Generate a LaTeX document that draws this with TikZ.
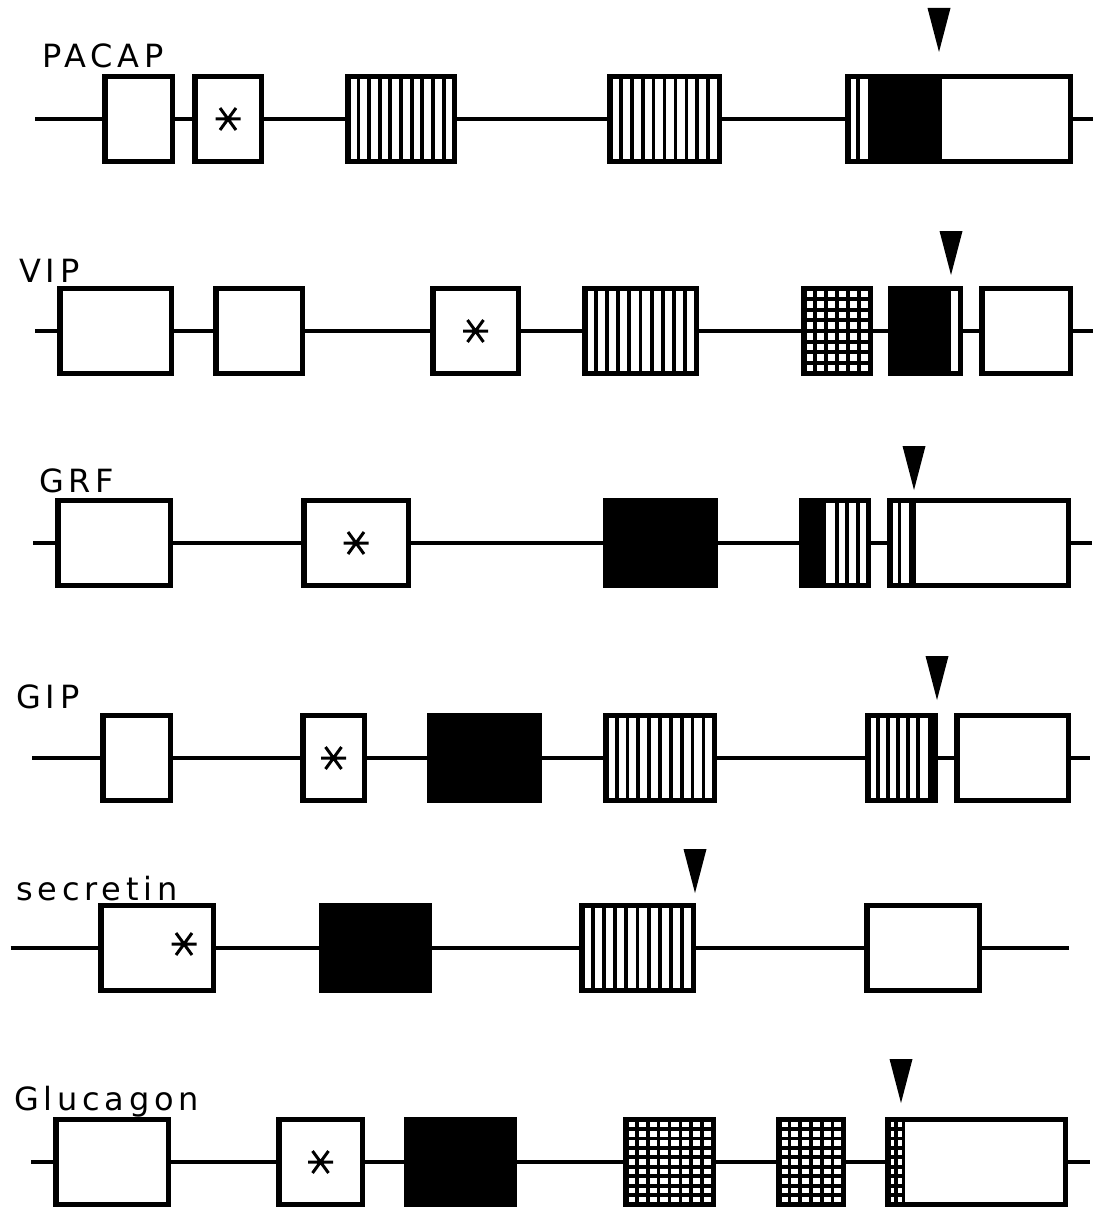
\documentclass[tikz,border=0pt]{standalone}
\usepackage{fontspec}
\newfontfamily\genefont[LetterSpace=15]{DejaVu Sans}
\usetikzlibrary{calc}
\tikzset{exon/.style={draw,line width=5.5pt,inner sep=0pt,outer sep=0pt,minimum height=85pt,minimum width=#1},
  blackexon/.style={exon=#1,fill=black},
  intron/.style={line width=4pt},
  barline/.style={line width=3.8pt},
  gene/.style={anchor=base west,inner sep=0pt,font=\genefont\fontsize{32}{38}\selectfont},
  cut/.pic={\fill (-11.5,-44) -- (11.5,-44) -- (0,0) -- cycle;},
  asterisk/.pic={\draw[line width=3pt] (-12.5,0) -- (12.5,0) (-8,-11) -- (8,11) (-8,11) -- (8,-11);}}
% #2 vertical bars spread over the fraction #3..#4 of node #1
\newcommand\vbars[4]{%
  \draw[barline] let \p1=(#1.north west), \p2=(#1.south east) in
    \foreach \k in {1,...,#2}{({\x1+(\x2-\x1)*(#3+(#4-#3)*\k/(#2+1))},\y1) -- ({\x1+(\x2-\x1)*(#3+(#4-#3)*\k/(#2+1))},\y2)};}
% #2 horizontal bars, running over the fraction #3..#4 of node #1
\newcommand\hbars[4]{%
  \draw[barline] let \p1=(#1.north west), \p2=(#1.south east) in
    \foreach \k in {1,...,#2}{({\x1+(\x2-\x1)*#3},{\y1+(\y2-\y1)*\k/(#2+1)}) -- ({\x1+(\x2-\x1)*#4},{\y1+(\y2-\y1)*\k/(#2+1)})};}
\newcommand\blackpart[3]{\fill ($(#1.north west)!#2!(#1.north east)$) rectangle ($(#1.south west)!#3!(#1.south east)$);}

\begin{document}
\begin{tikzpicture}[x=1pt,y=-1pt]
\useasboundingbox (0,0) rectangle (1093,1209);

% PACAP
\node[gene] (pacap) at (42,68) {PACAP};
\coordinate (p0) at (35,119);
\node[exon=67.5pt] (p1) at (138.5,119) {};
\node[exon=66.5pt] (p2) at (228,119) {};
\node[exon=106.5pt] (p3) at (401,119) {};
\node[exon=109.5pt] (p4) at (664.5,119) {};
\node[exon=222.5pt] (p5) at (959,119) {};
\coordinate (p6) at (1093,119);
\draw[intron] (p0) -- (p1) -- (p2) -- (p3) -- (p4) -- (p5) -- (p6);
\pic at (p2) {asterisk};
\vbars{p3}{9}{0}{1}
\vbars{p4}{9}{0}{1}
\vbars{p5}{1}{0}{0.093}
\blackpart{p5}{0.093}{0.424}
\pic at (939,52) {cut};

% VIP
\node[gene] (vip) at (19,282) {VIP};
\coordinate (v0) at (35,331);
\node[exon=111.5pt] (v1) at (115.5,331) {};
\node[exon=86.5pt] (v2) at (259,331) {};
\node[exon=85.5pt] (v3) at (475.5,331) {};
\node[exon=111.5pt] (v4) at (640.5,331) {};
\node[exon=66.5pt] (v5) at (837,331) {};
\node[exon=69.5pt] (v6) at (925.5,331) {};
\node[exon=88.5pt] (v7) at (1026,331) {};
\coordinate (v8) at (1093,331);
\draw[intron] (v0) -- (v1) -- (v2) -- (v3) -- (v4) -- (v5) -- (v6) -- (v7) -- (v8);
\pic at (v3) {asterisk};
\vbars{v4}{9}{0}{1}
\vbars{v5}{5}{0}{1}
\hbars{v5}{7}{0}{1}
\blackpart{v6}{0}{0.86}
\pic at (951,275) {cut};

% GRF
\node[gene] (grf) at (39,492) {GRF};
\coordinate (g0) at (33,543);
\node[exon=112.5pt] (g1) at (114,543) {};
\node[exon=104.5pt] (g2) at (356,543) {};
\node[blackexon=109.5pt] (g3) at (660.5,543) {};
\node[exon=66.5pt] (g4) at (835,543) {};
\node[exon=178.5pt] (g5) at (979,543) {};
\coordinate (g6) at (1092,543);
\draw[intron] (g0) -- (g1) -- (g2) -- (g3) -- (g4) -- (g5) -- (g6);
\pic at (g2) {asterisk};
\blackpart{g4}{0}{0.367}
\vbars{g4}{3}{0.367}{1}
\vbars{g5}{1}{0}{0.11}
\blackpart{g5}{0.11}{0.149}
\pic at (914,490) {cut};

% GIP
\node[gene] (gip) at (16,708) {GIP};
\coordinate (i0) at (32,758);
\node[exon=67.5pt] (i1) at (136.5,758) {};
\node[exon=61.5pt] (i2) at (333.5,758) {};
\node[blackexon=109.5pt] (i3) at (484.5,758) {};
\node[exon=108.5pt] (i4) at (660,758) {};
\node[exon=67.5pt] (i5) at (901.5,758) {};
\node[exon=111.5pt] (i6) at (1012.5,758) {};
\coordinate (i7) at (1090,758);
\draw[intron] (i0) -- (i1) -- (i2) -- (i3) -- (i4) -- (i5) -- (i6) -- (i7);
\pic at (i2) {asterisk};
\vbars{i4}{9}{0}{1}
\vbars{i5}{5}{0}{0.887}
\blackpart{i5}{0.887}{1}
\pic at (937,700) {cut};

% secretin
\node[gene] (secretin) at (16,900) {secretin};
\coordinate (s0) at (10.5,948);
\node[exon=112.5pt] (s1) at (157,948) {};
\node[blackexon=107.5pt] (s2) at (375.5,948) {};
\node[exon=111.5pt] (s3) at (637.5,948) {};
\node[exon=112.5pt] (s4) at (923,948) {};
\coordinate (s5) at (1069,948);
\draw[intron] (s0) -- (s1) -- (s2) -- (s3) -- (s4) -- (s5);
\pic at ($(s1)+(27,-4)$) {asterisk};
\vbars{s3}{9}{0}{1}
\pic at (695,893) {cut};

% Glucagon
\node[gene] (glucagon) at (14,1110) {Glucagon};
\coordinate (c0) at (31,1162);
\node[exon=112.5pt] (c1) at (112,1162) {};
\node[exon=83.5pt] (c2) at (320.5,1162) {};
\node[blackexon=107.5pt] (c3) at (460.5,1162) {};
\node[exon=87.5pt] (c4) at (669.5,1162) {};
\node[exon=64.5pt] (c5) at (811,1162) {};
\node[exon=177.5pt] (c6) at (976.5,1162) {};
\coordinate (c7) at (1090,1162);
\draw[intron] (c0) -- (c1) -- (c2) -- (c3) -- (c4) -- (c5) -- (c6) -- (c7);
\pic at (c2) {asterisk};
\vbars{c4}{7}{0}{1}
\hbars{c4}{8}{0}{1}
\vbars{c5}{5}{0}{1}
\hbars{c5}{8}{0}{1}
\vbars{c6}{1}{0}{0.09}
\hbars{c6}{8}{0}{0.09}
\blackpart{c6}{0.082}{0.098}
\pic at (901,1103) {cut};
\end{tikzpicture}
\end{document}
